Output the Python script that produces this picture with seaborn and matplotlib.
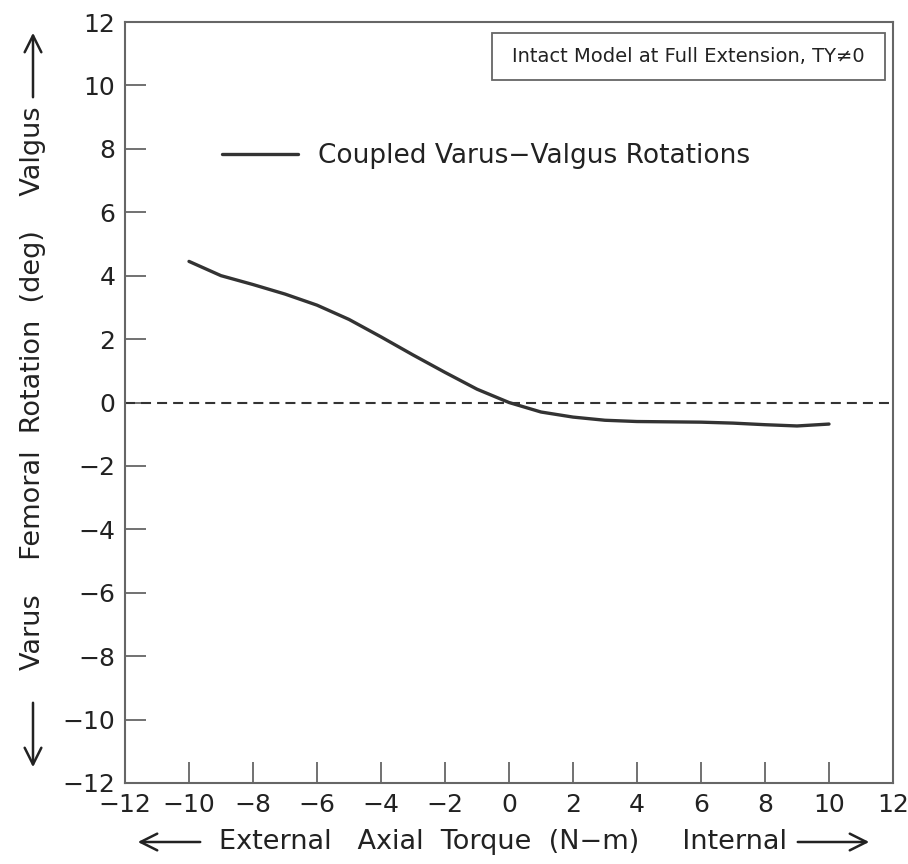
import matplotlib
matplotlib.use("Agg")
import matplotlib.pyplot as plt
from matplotlib.patches import Rectangle
import seaborn as sns
import pandas as pd

# ---- data ----
torque = [-10, -9, -8, -7, -6, -5, -4, -3, -2, -1, 0, 1, 2, 3, 4, 5, 6, 7, 8, 9, 10]
rotation = [4.45, 4.0, 3.72, 3.42, 3.07, 2.62, 2.07, 1.5, 0.95, 0.42, 0.0,
            -0.3, -0.46, -0.56, -0.6, -0.61, -0.62, -0.65, -0.7, -0.74, -0.68]
series_label = "Coupled Varus−Valgus Rotations"
x_ticks = [-12, -10, -8, -6, -4, -2, 0, 2, 4, 6, 8, 10, 12]
y_ticks = [-12, -10, -8, -6, -4, -2, 0, 2, 4, 6, 8, 10, 12]
zero_level = 0
box_text = "Intact Model at Full Extension, TY≠0"
x_label = "External   Axial  Torque  (N−m)     Internal"
y_label = "Varus    Femoral  Rotation  (deg)    Valgus"

df = pd.DataFrame({"torque": torque, "rotation": rotation})

sns.set_style("white")
plt.rcParams["font.family"] = ["DejaVu Sans"]

W, H = 908, 864
fig = plt.figure(figsize=(W / 100, H / 100), dpi=100)
ax = fig.add_axes([125 / W, 81 / H, 768 / W, 761 / H])

ink = "#333333"
frame = "#666666"

sns.lineplot(data=df, x="torque", y="rotation", ax=ax, color=ink, lw=2.4,
             label=series_label)
ax.axhline(zero_level, color=ink, lw=1.5, dashes=(4.8, 2.9))

ax.set_xlim(-12, 12)
ax.set_ylim(-12, 12)
ax.set_xticks(x_ticks)
ax.set_yticks(y_ticks)
ax.set_xlabel("")
ax.set_ylabel("")
ax.tick_params(axis="both", direction="in", length=15, width=1.3, color=frame,
               labelsize=18, labelcolor="#222222", pad=7,
               bottom=True, left=True, top=False, right=False)
for s in ax.spines.values():
    s.set_color(frame)
    s.set_linewidth(1.5)

leg = ax.legend(loc="center left", bbox_to_anchor=(0.126, 0.824), frameon=False,
                fontsize=19, handlelength=2.9, handletextpad=0.76,
                borderaxespad=0, borderpad=0)
for t in leg.get_texts():
    t.set_color("#222222")

# info box
ax.add_patch(Rectangle((0.478, 0.924), 0.512, 0.0615, transform=ax.transAxes,
                       fill=False, edgecolor=frame, lw=1.3))
ax.text(0.734, 0.955, box_text, transform=ax.transAxes, ha="center", va="center",
        fontsize=14, color="#222222")

# axis labels as figure text
fig.text(503 / W, 1 - 842 / H, x_label, ha="center", va="center", fontsize=19.5,
         color="#222222")
fig.text(33 / W, 1 - 388 / H, y_label, ha="center", va="center", rotation=90,
         fontsize=19.5, color="#222222")

arrow = dict(arrowstyle="->,head_length=1.2,head_width=0.6", lw=1.8, color="#222222")
fig_px = "figure pixels"
ax.annotate("", xy=(33, H - 30), xytext=(33, H - 100), xycoords=fig_px,
            textcoords=fig_px, arrowprops=arrow)
ax.annotate("", xy=(33, H - 770), xytext=(33, H - 700), xycoords=fig_px,
            textcoords=fig_px, arrowprops=arrow)
ax.annotate("", xy=(135, H - 842), xytext=(203, H - 842), xycoords=fig_px,
            textcoords=fig_px, arrowprops=arrow)
ax.annotate("", xy=(872, H - 842), xytext=(795, H - 842), xycoords=fig_px,
            textcoords=fig_px, arrowprops=arrow)

fig.savefig("out.png", dpi=100)
